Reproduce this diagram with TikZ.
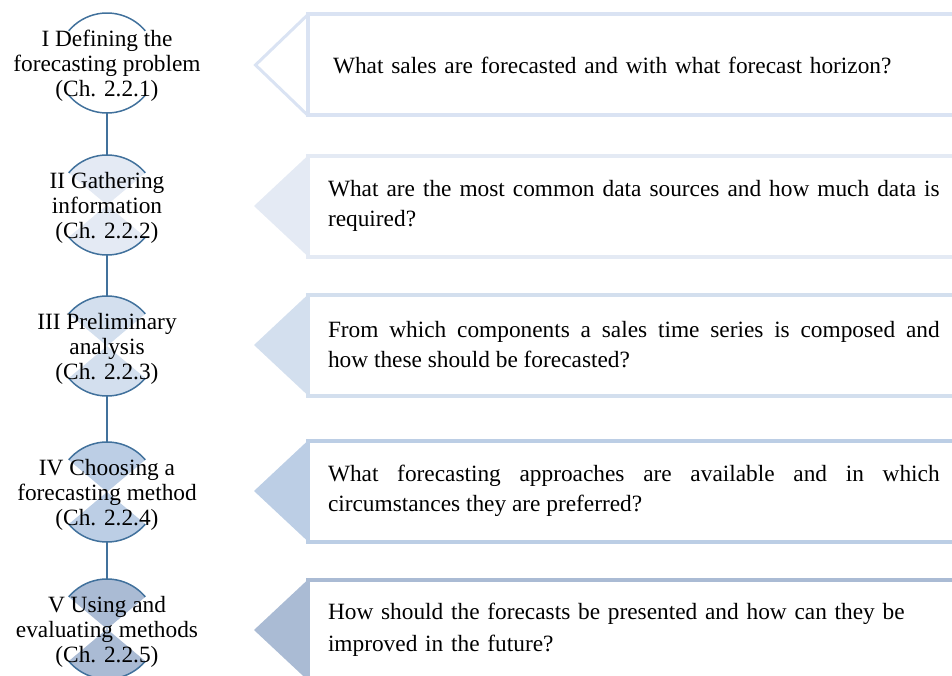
\documentclass[tikz,border=0pt]{standalone}
\usepackage{fontspec}
\setmainfont{Liberation Serif}
\definecolor{stageline}{HTML}{41719C}
\definecolor{toneA}{HTML}{DAE3F3}
\definecolor{toneB}{HTML}{E4EAF4}
\definecolor{toneC}{HTML}{D3DFEE}
\definecolor{toneD}{HTML}{BCCEE5}
\definecolor{toneE}{HTML}{AABBD4}
\tikzset{
	stage/.style={circle,minimum size=60pt,inner sep=0pt,outer sep=0pt},
	stagetext/.style={align=center,yshift=-1.8pt,font=\fontsize{14}{15}\selectfont},
	question/.style={draw=#1,line width=2.4pt,fill=white,anchor=west,outer sep=0pt,
		text width=367pt,inner xsep=12pt,inner ysep=0pt,minimum height=60.6pt,
		font=\fontsize{14}{18}\selectfont},
	link/.style={draw=stageline,line width=0.9pt}
}
\begin{document}
\begin{tikzpicture}[x=0.6pt,y=-0.6pt]
	\clip (0,0) rectangle (952,675);
	% stages
	\node[stage] (s1) at (107,63) {};
	\node[stage] (s2) at (107,205) {};
	\node[stage] (s3) at (107,346) {};
	\node[stage] (s4) at (107,492) {};
	\node[stage] (s5) at (107,629) {};
	\fill[toneB] (s2.center) -- (s2.40) arc[start angle=40,end angle=140,radius=30pt] -- cycle
		(s2.center) -- (s2.220) arc[start angle=220,end angle=320,radius=30pt] -- cycle;
	\fill[toneC] (s3.center) -- (s3.40) arc[start angle=40,end angle=140,radius=30pt] -- cycle
		(s3.center) -- (s3.220) arc[start angle=220,end angle=320,radius=30pt] -- cycle;
	\fill[toneD] (s4.center) -- (s4.40) arc[start angle=40,end angle=140,radius=30pt] -- cycle
		(s4.center) -- (s4.220) arc[start angle=220,end angle=320,radius=30pt] -- cycle;
	\fill[toneE] (s5.center) -- (s5.40) arc[start angle=40,end angle=140,radius=30pt] -- cycle
		(s5.center) -- (s5.220) arc[start angle=220,end angle=320,radius=30pt] -- cycle;
	\draw[link] (s1.40) arc[start angle=40,end angle=140,radius=30pt]
		(s1.220) arc[start angle=220,end angle=320,radius=30pt];
	\draw[link] (s2.40) arc[start angle=40,end angle=140,radius=30pt]
		(s2.220) arc[start angle=220,end angle=320,radius=30pt];
	\draw[link] (s3.40) arc[start angle=40,end angle=140,radius=30pt]
		(s3.220) arc[start angle=220,end angle=320,radius=30pt];
	\draw[link] (s4.40) arc[start angle=40,end angle=140,radius=30pt]
		(s4.220) arc[start angle=220,end angle=320,radius=30pt];
	\draw[link] (s5.40) arc[start angle=40,end angle=140,radius=30pt]
		(s5.220) arc[start angle=220,end angle=320,radius=30pt];
	\draw[link] (s1.south) -- (s2.north);
	\draw[link] (s2.south) -- (s3.north);
	\draw[link] (s3.south) -- (s4.north);
	\draw[link] (s4.south) -- (s5.north);
	\node[stagetext] (l1) at (s1) {I Defining the\\forecasting problem\\(Ch. 2.2.1)};
	\node[stagetext] (l2) at (s2) {II Gathering\\information\\(Ch. 2.2.2)};
	\node[stagetext] (l3) at (s3) {III Preliminary\\analysis\\(Ch. 2.2.3)};
	\node[stagetext] (l4) at (s4) {IV Choosing a\\forecasting method\\(Ch. 2.2.4)};
	\node[stagetext] (l5) at (s5) {V Using and\\evaluating methods\\(Ch. 2.2.5)};
	% questions
	\node[question=toneA,align=left] (q1) at (308,65)
		{\hspace*{3pt}What sales are forecasted and with what forecast horizon?};
	\node[question=toneB,align=justify] (q2) at (308,206)
		{What are the most common data sources and how much data is\linebreak required?};
	\node[question=toneC,align=justify] (q3) at (308,345)
		{From which components a sales time series is composed and\linebreak how these should be forecasted?};
	\node[question=toneD,align=justify] (q4) at (308,491)
		{What forecasting approaches are available and in which\linebreak circumstances they are preferred?};
	\node[question=toneE,align=left,font=\fontsize{14}{19}\selectfont] (q5) at (308,630)
		{How should the forecasts be presented and how can they be\\improved in the future?};
	\draw[toneA,line width=1.8pt,line join=miter] (q1.north west) -- ([xshift=-31.5pt]q1.west) -- (q1.south west);
	\fill[toneB] (q2.north west) -- ([xshift=-32.4pt]q2.west) -- (q2.south west) -- cycle;
	\fill[toneC] (q3.north west) -- ([xshift=-32.4pt]q3.west) -- (q3.south west) -- cycle;
	\fill[toneD] (q4.north west) -- ([xshift=-32.4pt]q4.west) -- (q4.south west) -- cycle;
	\fill[toneE] (q5.north west) -- ([xshift=-32.4pt]q5.west) -- (q5.south west) -- cycle;
\end{tikzpicture}
\end{document}
